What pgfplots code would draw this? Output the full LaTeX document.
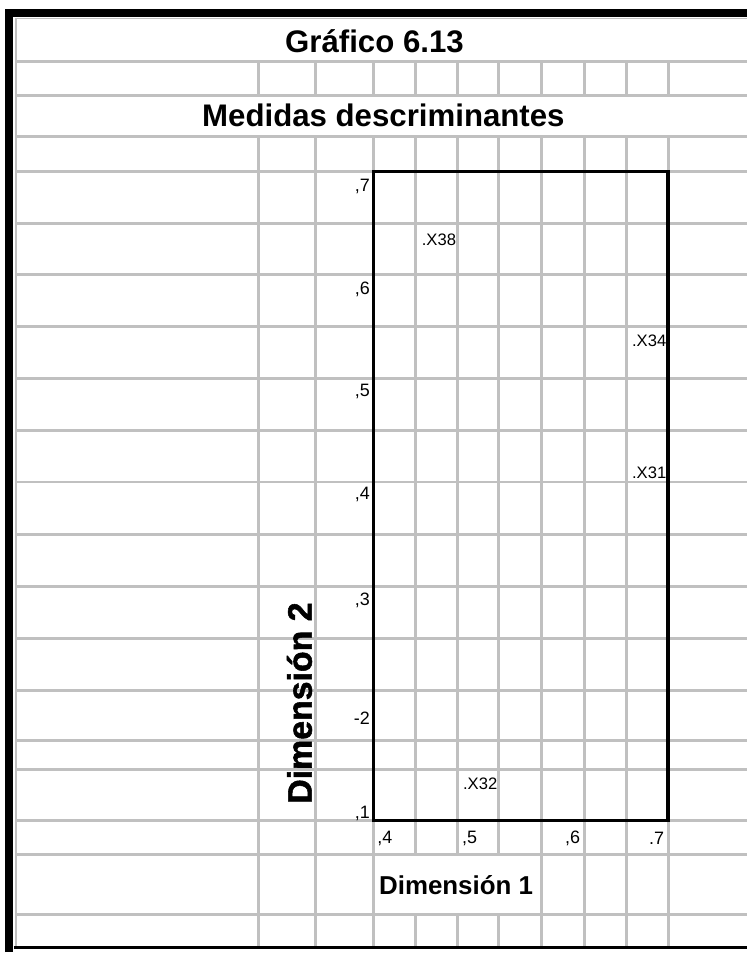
\documentclass[border=0pt]{standalone}
\usepackage{pgfplots}
\pgfplotsset{compat=1.18}
\usepackage{fontspec}
\setmainfont{Liberation Sans}
\newfontfamily\heavyfont{Liberation Sans}[BoldFeatures={FakeBold=1.6}]
\definecolor{cellgrid}{HTML}{C0C0C0}
\tikzset{gridline/.style={cellgrid, line width=2.25pt}}

\begin{document}
\begin{tikzpicture}
% hoja de fondo en pixeles (1 px = 0.75pt)
\begin{axis}[
  name=sheet, at={(0,0)}, anchor=north west,
  width=562.5pt, height=717pt, scale only axis,
  xmin=0, xmax=750, ymin=0, ymax=956, y dir=reverse,
  hide axis, clip=false, unbounded coords=jump,
]
\addplot[draw=none] coordinates {(0,0) (750,956)};
% lineas horizontales de las celdas
\pgfplotsinvokeforeach{62,96,137,172,224,276,328,380,432,484,537,589,641,693,744,773,824,858,918}{
  \addplot[gridline] coordinates {(16,#1) (750,#1)};
}
% lineas verticales
\pgfplotsinvokeforeach{260,317,375,544,587,629,671}{
  \addplot[gridline] coordinates {(#1,62) (#1,96) (nan,nan) (#1,137) (#1,951)};
}
\pgfplotsinvokeforeach{417,459,501}{
  \addplot[gridline] coordinates {(#1,62) (#1,96) (nan,nan) (#1,137) (#1,858) (nan,nan) (#1,918) (#1,951)};
}
% marco
\addplot[cellgrid, line width=1.2pt] coordinates {(16,952) (16,18.5) (750,18.5)};
\addplot[black, line width=6pt] coordinates {(9.5,956) (9.5,13) (750,13)};
\addplot[black, line width=2.6pt] coordinates {(14,951.5) (750,951.5)};

\node[anchor=base, font=\bfseries\fontsize{23.5}{28}\selectfont] at (axis cs:376,53) {Gráfico 6.13};
\node[anchor=base, font=\bfseries\fontsize{23.5}{28}\selectfont] at (axis cs:385,127) {Medidas descriminantes};
\node[anchor=base, font=\bfseries\fontsize{19.5}{23}\selectfont] at (axis cs:458,898) {Dimensión 1};
\node[rotate=90, anchor=base, font=\heavyfont\bfseries\fontsize{25.5}{30}\selectfont] at (axis cs:313,706) {Dimensión 2};
\end{axis}

% grafico de dispersion
\begin{axis}[
  at={(281.25pt,-129pt)}, anchor=north west,
  width=222pt, height=489pt, scale only axis,
  xmin=0.4, xmax=0.7, ymin=0.1, ymax=0.7,
  axis line style={line width=2.6pt, black},
  major tick length=0pt, tick style={draw=none},
  xtick={0.4117,0.4978,0.6027,0.6883},
  xticklabels={{,4},{,5},{,6},{.7}},
  ytick={0.6862,0.5905,0.4966,0.4009,0.3034,0.1948,0.1064},
  yticklabels={{,7},{,6},{,5},{,4},{,3},{-2},{,1}},
  tick label style={font=\fontsize{13.5}{16}\selectfont},
  xticklabel style={anchor=center, inner sep=0pt, yshift=-13.5pt},
  yticklabel style={anchor=east, inner sep=0pt, xshift=-2.5pt},
  clip=false,
  nodes near coords, point meta=explicit symbolic,
  nodes near coords style={anchor=west, inner sep=0pt, font=\fontsize{12.5}{15}\selectfont},
]
\addplot[only marks, mark=*, mark size=0pt, mark options={draw=none, fill=none}] coordinates {
  (0.449,0.637) [.X38]
  (0.663,0.543) [.X34]
  (0.663,0.421) [.X31]
  (0.491,0.134) [.X32]
};
\end{axis}
\end{tikzpicture}
\end{document}
